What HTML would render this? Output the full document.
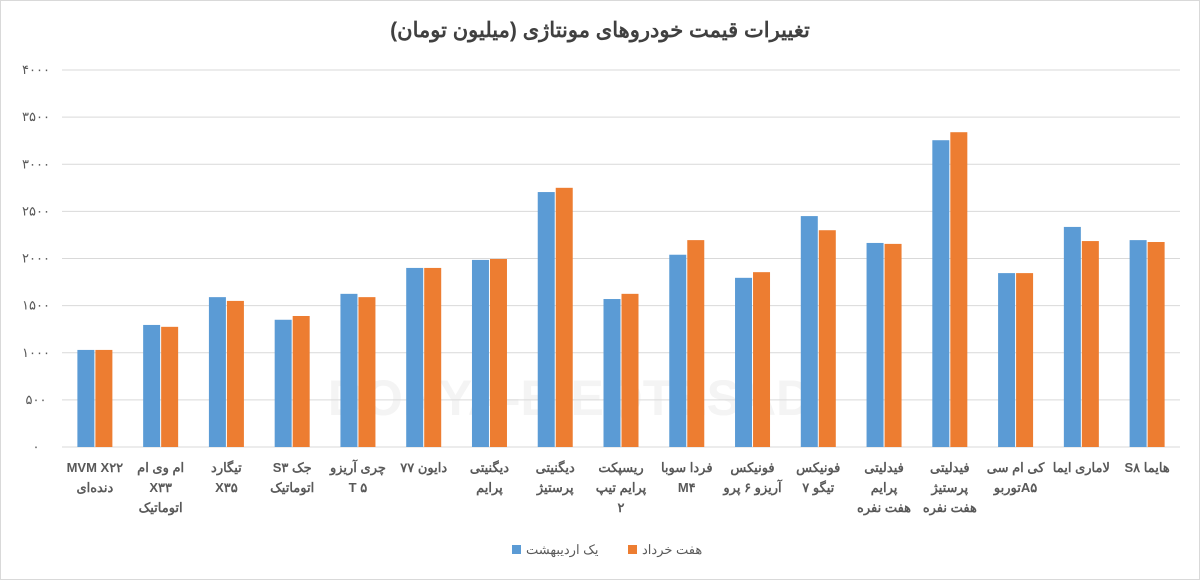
<!DOCTYPE html>
<html><head><meta charset="utf-8">
<style>
body{margin:0;background:#fff;}
svg text{font-family:"Liberation Sans","Noto Sans CJK SC",sans-serif;}
</style></head>
<body>
<svg id="chart" width="1200" height="580" xmlns="http://www.w3.org/2000/svg">
<rect x="0.5" y="0.5" width="1199" height="579" fill="#fff" stroke="#d9d9d9"/>
<text x="600" y="37" text-anchor="middle" font-size="21" font-weight="bold" fill="#404040" direction="rtl">تغییرات قیمت خودروهای مونتاژی (میلیون تومان)</text>
<text x="570" y="415" text-anchor="middle" font-size="50" font-weight="bold" fill="#f4f4f4">DONYA-E-EQTESAD</text>
<g id="grid"></g><g id="bars"></g><g id="labels"></g>
<g>
<rect x="512" y="545" width="9" height="9" fill="#5b9bd5"/>
<text x="526" y="554" text-anchor="start" font-size="13" fill="#595959">یک اردیبهشت</text>
<rect x="628" y="545" width="9" height="9" fill="#ed7d31"/>
<text x="642" y="554" text-anchor="start" font-size="13" fill="#595959">هفت خرداد</text>
</g>
</svg>
<script>
const categories=[["MVM X۲۲","دنده‌ای"],["ام وی ام","X۳۳","اتوماتیک"],["تیگارد","X۳۵"],["جک  S۳","اتوماتیک"],["چری آریزو","T ۵"],["دایون ۷۷"],["دیگنیتی","پرایم"],["دیگنیتی","پرستیژ"],["ریسپکت","پرایم تیپ","۲"],["فردا سوبا","M۴"],["فونیکس","آریزو ۶ پرو"],["فونیکس","تیگو ۷"],["فیدلیتی","پرایم","هفت نفره"],["فیدلیتی","پرستیژ","هفت نفره"],["کی ام سی","A۵توربو"],["لاماری ایما"],["هایما S۸"]];
const ordibehesht=[1030,1295,1590,1350,1625,1900,1985,2705,1570,2040,1795,2450,2165,3255,1845,2335,2195];
const khordad=[1030,1275,1550,1390,1590,1900,1995,2750,1625,2195,1855,2300,2155,3340,1845,2185,2175];
const ticks=[0,500,1000,1500,2000,2500,3000,3500,4000];
const tickLabels=["۰","۵۰۰","۱۰۰۰","۱۵۰۰","۲۰۰۰","۲۵۰۰","۳۰۰۰","۳۵۰۰","۴۰۰۰"];
const NS="http://www.w3.org/2000/svg";
const x0=62,x1=1180,y0=447,yTop=70,maxV=4000;
const y=v=>y0-(v/maxV)*(y0-yTop);
const band=(x1-x0)/categories.length;
const xc=i=>x0+band*(i+0.5);
function mk(tag,attrs,parent){const e=document.createElementNS(NS,tag);for(const k in attrs)e.setAttribute(k,attrs[k]);parent.appendChild(e);return e;}
const grid=document.getElementById('grid'),bars=document.getElementById('bars'),labels=document.getElementById('labels');
ticks.forEach((t,i)=>{
 const l=mk('line',{x1:x0,x2:x1,y1:y(t),y2:y(t),stroke:'#d9d9d9','stroke-width':1},grid);
 
 
 const tx=mk('text',{x:36,y:y(t)+4,'text-anchor':'middle','font-size':13,fill:'#595959'},grid);
 tx.textContent=tickLabels[i];
 
 
});
const bw=17;
categories.forEach((c,i)=>{
 const b1=mk('rect',{x:xc(i)-bw-0.5,y:y(ordibehesht[i]),width:bw,height:y0-y(ordibehesht[i]),fill:'#5b9bd5'},bars);
 
 
 const b2=mk('rect',{x:xc(i)+0.5,y:y(khordad[i]),width:bw,height:y0-y(khordad[i]),fill:'#ed7d31'},bars);
 
 
 c.forEach((line,j)=>{
  const t=mk('text',{x:xc(i),y:472+j*20,'text-anchor':'middle','font-size':13,'font-weight':'bold',fill:'#595959',direction:'rtl'},labels);
  t.textContent=line;
  
  
 });
});
</script>
</body></html>
